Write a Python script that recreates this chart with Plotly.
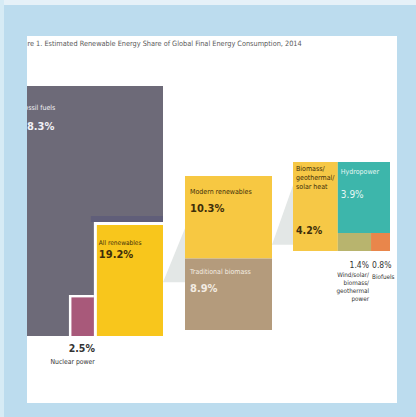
import math
import plotly.graph_objects as go

# ---------------- data ----------------
TITLE = "Figure 1. Estimated Renewable Energy Share of Global Final Energy Consumption, 2014"
top_categories = ["Fossil fuels", "All renewables", "Nuclear power"]
top_shares = [78.3, 19.2, 2.5]
renew_categories = ["Modern renewables", "Traditional biomass"]
renew_shares = [10.3, 8.9]
modern_categories = ["Biomass/geothermal/solar heat", "Hydropower",
                     "Wind/solar/biomass/geothermal power", "Biofuels"]
modern_shares = [4.2, 3.9, 1.4, 0.8]

# ---------------- style / layout ----------------
FIG_W, FIG_H = 416, 417
PANEL = (27, 36, 397, 403)          # white panel in pixel-like chart units
FONT = "DejaVu Sans Condensed, Liberation Sans Narrow, Arial Narrow, sans-serif"
BG_BLUE = "#bcdcee"
C_FOSSIL = "#6d6a78"
C_SHADOW = "#605e79"
C_RENEW = "#f8c61c"
C_NUC = "#a8597a"
C_MODERN = "#f7c842"
C_TRAD = "#b49b7c"
C_HEAT = "#f6c846"
C_HYDRO = "#3db6ab"
C_WIND = "#b8b46e"
C_BIOF = "#e9864b"
C_CONN = "#e3e7e6"
DARK = "#3e2e0a"

LEFT = (27, 86, 163, 336)      # container for 100 %
STRETCH = (1.16, 1.04)         # focus boxes drawn slightly enlarged
MID = (185, 176, 272, 330)     # container for all renewables
RIGHT = (293, 162, 390, 251)   # container for modern renewables
SMALL_H = 18                   # height of the row of small items

fig = go.Figure()


def rect(x0, y0, x1, y1, color):
    fig.add_trace(go.Scatter(x=[x0, x1, x1, x0, x0], y=[y0, y0, y1, y1, y0],
                             mode="lines", fill="toself", fillcolor=color,
                             line=dict(width=0), hoverinfo="skip", showlegend=False))


def poly(xs, ys, color):
    fig.add_trace(go.Scatter(x=xs + [xs[0]], y=ys + [ys[0]], mode="lines", fill="toself",
                             fillcolor=color, line=dict(width=0), hoverinfo="skip",
                             showlegend=False))


def label(x, y, txt, size, color, pos="middle right", bold=False):
    fig.add_trace(go.Scatter(x=[x], y=[y], mode="text", text=[txt], textposition=pos,
                             textfont=dict(family=FONT, size=size, color=color,
                                           weight="bold" if bold else "normal"),
                             cliponaxis=True, hoverinfo="skip", showlegend=False))


def pct(v):
    return f"{v}%"


# ---------- level 1: global final energy ----------
lx0, ly0, lx1, ly1 = LEFT
W, H = lx1 - lx0, ly1 - ly0
rect(lx0, ly0, lx1, ly1, C_FOSSIL)

fr = math.sqrt(top_shares[1] / 100)
rw, rh = W * fr * STRETCH[0], H * fr * STRETCH[1]
rx0, ry0 = lx1 - rw, ly1 - rh
rect(rx0 - 3, ry0 - 6, lx1, ry0, C_SHADOW)
rect(rx0, ry0, lx1, ly1, "white")
rect(rx0 + 3, ry0 + 3, lx1, ly1, C_RENEW)

fn = math.sqrt(top_shares[2] / 100)
nw, nh = W * fn * STRETCH[0], H * fn * STRETCH[1]
nx0, ny0 = rx0 - nw, ly1 - nh
rect(nx0, ny0, rx0, ly1, "white")
rect(nx0 + 2.5, ny0 + 2.5, rx0, ly1, C_NUC)

# ---------- level 2: all renewables ----------
mx0, my0, mx1, my1 = MID
mh = (my1 - my0) * renew_shares[0] / sum(renew_shares)
poly([lx1, mx0, mx0], [my0 + 0.69 * (my1 - my0), my0 + 0.34 * (my1 - my0),
                       my0 + 0.69 * (my1 - my0)], C_CONN)
rect(mx0, my0, mx1, my0 + mh, C_MODERN)
rect(mx0, my0 + mh, mx1, my1, C_TRAD)

# ---------- level 3: modern renewables ----------
hx0, hy0, hx1, hy1 = RIGHT
RW, RH = hx1 - hx0, hy1 - hy0
poly([mx1, hx0, hx0], [hy0 + 0.93 * RH, hy0 + 0.26 * RH, hy0 + 0.93 * RH], C_CONN)
a, b = modern_shares[0], modern_shares[1]
heat_w = a * (RH - SMALL_H) * RW / (RH * b + a * (RH - SMALL_H))
sx = hx0 + heat_w
rect(hx0, hy0, sx, hy1, C_HEAT)
rect(sx, hy0, hx1, hy1 - SMALL_H, C_HYDRO)
small_split = sx + (hx1 - sx) * modern_shares[2] / (modern_shares[2] + modern_shares[3])
rect(sx, hy1 - SMALL_H, small_split, hy1, C_WIND)
rect(small_split, hy1 - SMALL_H, hx1, hy1, C_BIOF)

# ---------- texts ----------
label(PANEL[0] - 13, 44, TITLE, 7.3, "#5a5a5a")

label(lx0 - 6, 108, top_categories[0], 7, "#f2f2f6")
label(lx0 - 7, 127, pct(top_shares[0]), 11, "#f2f2f6", bold=True)

label(rx0 + 5, 243, top_categories[1], 6.5, DARK)
label(rx0 + 5, 255, pct(top_shares[1]), 11, DARK, bold=True)

label(rx0 + 1, 349, pct(top_shares[2]), 10.5, "#333333", pos="middle left", bold=True)
label(rx0 + 1, 362, top_categories[2], 6.8, "#333333", pos="middle left")

label(mx0 + 5, 192, renew_categories[0], 7, DARK)
label(mx0 + 5, 209, pct(renew_shares[0]), 11, DARK, bold=True)
label(mx0 + 5, my0 + mh + 14, renew_categories[1], 7, "#f3ece2")
label(mx0 + 5, my0 + mh + 31, pct(renew_shares[1]), 11, "#f3ece2", bold=True)

label(hx0 + 3, 166, "Biomass/<br>geothermal/<br>solar heat", 7, DARK, pos="bottom right")
label(hx0 + 3, 231, pct(modern_shares[0]), 10.5, DARK, bold=True)
label(sx + 3, 172, modern_categories[1], 7, "#e6f6f4")
label(sx + 3, 195, pct(modern_shares[1]), 10, "#e6f6f4")

label(small_split - 2, 266, pct(modern_shares[2]), 8.5, "#333333", pos="middle left")
label(small_split + 1, 266, pct(modern_shares[3]), 8.5, "#333333", pos="middle right")
label(small_split - 2, 272, "Wind/solar/<br>biomass/<br>geothermal<br>power", 6.3, "#333333",
      pos="bottom left")
label(small_split + 1, 277, modern_categories[3], 6.3, "#333333", pos="middle right")

# ---------- layout ----------
fig.update_layout(
    width=FIG_W, height=FIG_H, margin=dict(l=0, r=0, t=0, b=0),
    paper_bgcolor=BG_BLUE, plot_bgcolor="white", showlegend=False,
    xaxis=dict(domain=[PANEL[0] / FIG_W, PANEL[2] / FIG_W], range=[PANEL[0], PANEL[2]],
               visible=False, fixedrange=True),
    yaxis=dict(domain=[1 - PANEL[3] / FIG_H, 1 - PANEL[1] / FIG_H], range=[PANEL[3], PANEL[1]],
               visible=False, fixedrange=True),
    shapes=[
        dict(type="rect", xref="paper", yref="paper", x0=0, x1=1, y0=1 - 5 / FIG_H, y1=1,
             fillcolor="#e6f1f8", line=dict(width=0), layer="below"),
        dict(type="rect", xref="paper", yref="paper", x0=0, x1=4 / FIG_W, y0=0, y1=1,
             fillcolor="#d6ebf5", line=dict(width=0), layer="below"),
    ],
)

fig.write_html("out.html")
